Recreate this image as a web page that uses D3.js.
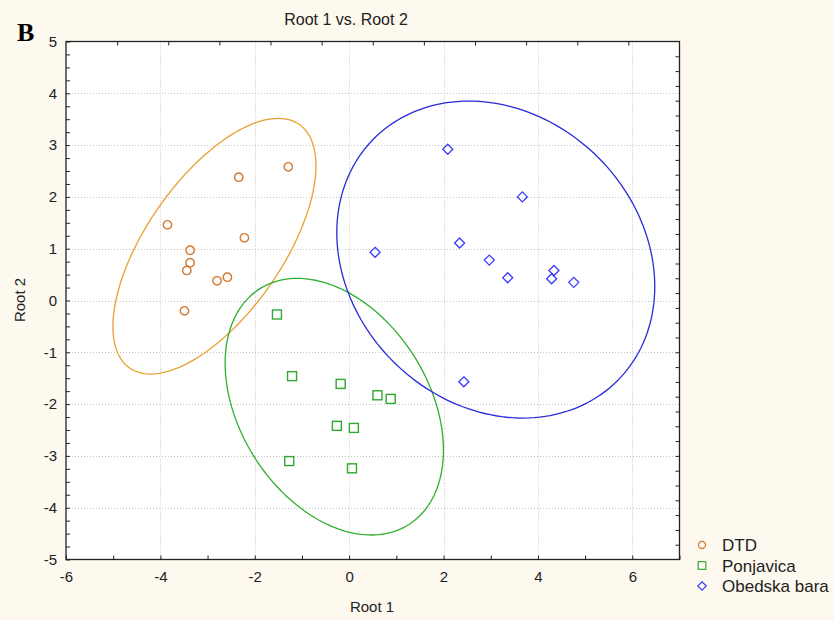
<!DOCTYPE html>
<html><head><meta charset="utf-8">
<script src="https://cdnjs.cloudflare.com/ajax/libs/d3/7.8.5/d3.min.js"></script>
<style>
html,body{margin:0;padding:0;background:#fdf9ee;}
svg{display:block;font-family:"Liberation Sans",Arial,sans-serif;}
</style></head>
<body><svg id="c" width="834" height="620"></svg>
<script>
// ---- data ----
const groups = ["DTD", "Ponjavica", "Obedska bara"];
const dtdX = [-1.29, -2.34, -3.85, -2.22, -3.37, -3.37, -3.44, -2.80, -2.58, -3.49];
const dtdY = [2.58, 2.38, 1.46, 1.21, 0.97, 0.73, 0.58, 0.38, 0.45, -0.20];
const ponX = [-1.53, -1.21, -0.18, 0.60, 0.88, -0.26, 0.10, -1.27, 0.06];
const ponY = [-0.27, -1.46, -1.61, -1.83, -1.90, -2.42, -2.46, -3.10, -3.24];
const obeX = [2.09, 3.67, 2.34, 0.55, 2.97, 3.36, 4.34, 4.29, 4.76, 2.43];
const obeY = [2.92, 2.00, 1.11, 0.93, 0.78, 0.44, 0.58, 0.42, 0.35, -1.57];
// ellipse parameters (centre and shape matrix, in data units)
const ellCx = [-2.855, -0.315, 3.107];
const ellCy = [1.048, -2.05, 0.79];
const ellVxx = [4.627, 5.35, 11.35];
const ellVyy = [6.091, 6.136, 9.36];
const ellVxy = [3.34, -1.94, -1.75];
const xTicks = [-6, -4, -2, 0, 2, 4, 6];
const yTicks = [-5, -4, -3, -2, -1, 0, 1, 2, 3, 4, 5];
const title = "Root 1 vs. Root 2";
const xTitle = "Root 1", yTitle = "Root 2", panel = "B";

// ---- styles ----
const markerColor = ["#d27b34", "#2faa2f", "#3a3aff"];
const ellColor = ["#e9a030", "#2fae2f", "#2a2ad8"];

const svg = d3.select("#c");
const x = d3.scaleLinear().domain([-6, 7]).range([66, 679.5]);
const y = d3.scaleLinear().domain([-5, 5]).range([559.5, 41.5]);

svg.append("rect").attr("width", 834).attr("height", 620).attr("fill", "#fdf9ee");
svg.append("rect").attr("x", x(-6)).attr("y", y(5))
  .attr("width", x(7) - x(-6)).attr("height", y(-5) - y(5)).attr("fill", "#fff");

// gridlines
const grid = svg.append("g").attr("stroke", "#c4c4c4").attr("stroke-width", 1).attr("stroke-dasharray", "1,2");
xTicks.filter(d => d > -6).forEach(d => {
  grid.append("line").attr("x1", Math.round(x(d)) + 0.5).attr("x2", Math.round(x(d)) + 0.5)
    .attr("y1", y(5)).attr("y2", y(-5));
});
yTicks.filter(d => d > -5 && d < 5).forEach(d => {
  grid.append("line").attr("y1", Math.round(y(d)) + 0.5).attr("y2", Math.round(y(d)) + 0.5)
    .attr("x1", x(-6)).attr("x2", x(7));
});

// ellipses
const line = d3.line().x(p => x(p[0])).y(p => y(p[1]));
groups.forEach((g, i) => {
  const l11 = Math.sqrt(ellVxx[i]);
  const l21 = ellVxy[i] / l11;
  const l22 = Math.sqrt(ellVyy[i] - l21 * l21);
  const pts = d3.range(0, 361, 2).map(a => {
    const t = a * Math.PI / 180;
    const u = Math.cos(t), v = Math.sin(t);
    return [ellCx[i] + l11 * u, ellCy[i] + l21 * u + l22 * v];
  });
  svg.append("path").attr("d", line(pts)).attr("fill", "none")
    .attr("stroke", ellColor[i]).attr("stroke-width", 1.3);
});

// markers
function marker(sel, type, color) {
  if (type === 0) sel.append("circle").attr("r", 4.2).attr("fill", "none").attr("stroke", color).attr("stroke-width", 1.4);
  else if (type === 1) sel.append("rect").attr("x", -4.5).attr("y", -4.5).attr("width", 9).attr("height", 9)
    .attr("fill", "none").attr("stroke", color).attr("stroke-width", 1.4);
  else sel.append("path").attr("d", "M0,-5L5,0L0,5L-5,0Z").attr("fill", "none").attr("stroke", color).attr("stroke-width", 1.3);
}
const series = [[dtdX, dtdY], [ponX, ponY], [obeX, obeY]];
series.forEach((s, i) => {
  s[0].forEach((vx, j) => {
    const g = svg.append("g").attr("transform", `translate(${x(vx)},${y(s[1][j])})`);
    marker(g, i, markerColor[i]);
  });
});

// axes
const fmt = d => String(d);
const xAxis = svg.append("g").attr("transform", `translate(0,${y(-5)})`)
  .call(d3.axisBottom(x).tickValues(d3.range(-6, 8)).tickSize(-4).tickPadding(12)
    .tickFormat(d => xTicks.includes(d) ? fmt(d) : ""));
const yAxis = svg.append("g").attr("transform", `translate(${x(-6)},0)`)
  .call(d3.axisLeft(y).tickValues(d3.range(-5, 5.001, 0.25)).tickSize(-4).tickPadding(9)
    .tickFormat(d => yTicks.includes(d) ? fmt(d) : ""));
[xAxis, yAxis].forEach(a => {
  a.select(".domain").remove();
  a.selectAll(".tick line").attr("stroke", "#222");
  a.selectAll(".tick text").attr("fill", "#222").style("font-size", "15px")
    .style("font-family", "'Liberation Sans',Arial,sans-serif");
});
// top & right border ticks
const topS = d3.scaleLinear().domain([0, 12]).range(x.range());
const rightS = d3.scaleLinear().domain([0, 35]).range(y.range());
svg.append("g").attr("transform", `translate(0,${y(5)})`)
  .call(d3.axisTop(topS).tickValues(d3.range(1, 12)).tickSize(-4).tickFormat(""))
  .call(a => { a.select(".domain").remove(); a.selectAll("line").attr("stroke", "#222"); });
svg.append("g").attr("transform", `translate(${x(7)},0)`)
  .call(d3.axisRight(rightS).tickValues(d3.range(1, 35)).tickSize(-4).tickFormat(""))
  .call(a => { a.select(".domain").remove(); a.selectAll("line").attr("stroke", "#222"); });

// frame
svg.append("rect").attr("x", x(-6)).attr("y", y(5))
  .attr("width", x(7) - x(-6)).attr("height", y(-5) - y(5))
  .attr("fill", "none").attr("stroke", "#222").attr("stroke-width", 1.3);

// texts
svg.append("text").attr("x", 346).attr("y", 25).attr("text-anchor", "middle")
  .style("font-size", "16px").attr("fill", "#222").text(title);
svg.append("text").attr("x", 372).attr("y", 612).attr("text-anchor", "middle")
  .style("font-size", "15px").attr("fill", "#222").text(xTitle);
svg.append("text").attr("transform", "translate(25,300) rotate(-90)").attr("text-anchor", "middle")
  .style("font-size", "15px").attr("fill", "#222").text(yTitle);
svg.append("text").attr("x", 17).attr("y", 41)
  .style("font-family", "'Liberation Serif','Times New Roman',serif").style("font-weight", "bold")
  .style("font-size", "26px").attr("fill", "#000").text(panel);

// legend
const leg = svg.append("g");
groups.forEach((g, i) => {
  const row = leg.append("g").attr("transform", `translate(702,${545 + i * 20.5})`);
  const m = row.append("g").attr("transform", "scale(0.85)");
  marker(m, i, markerColor[i]);
  row.append("text").attr("x", 20).attr("y", 6).style("font-size", "17px").attr("fill", "#222").text(g);
});
</script></body></html>
